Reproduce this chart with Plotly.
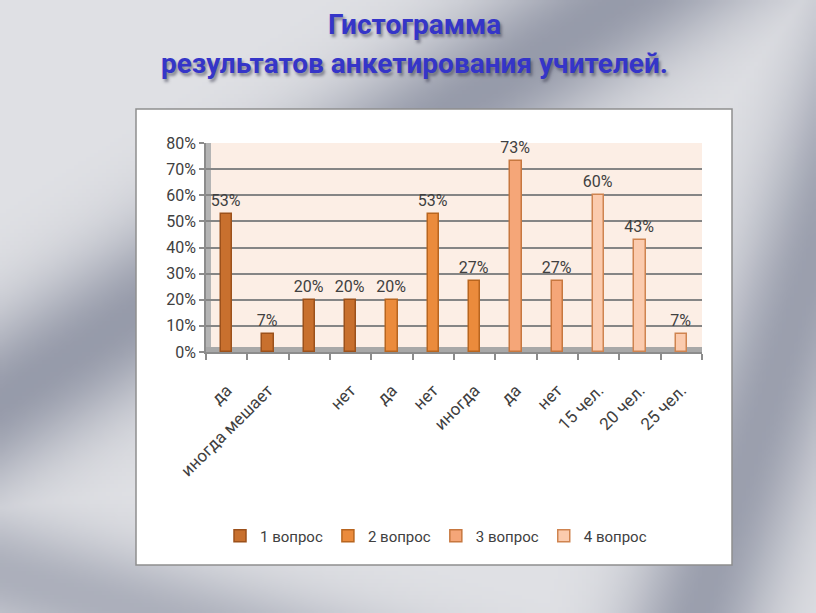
import base64, struct, zlib
import numpy as np
import plotly.graph_objects as go

# ---------------- data ----------------
categories = ["да", "иногда мешает", "", "нет", "да", "нет", "иногда", "да", "нет", "15 чел.", "20 чел.", "25 чел."]
series_names = ["1 вопрос", "2 вопрос", "3 вопрос", "4 вопрос"]
s1_idx = [0, 1, 2, 3]
s1_vals = [53, 7, 20, 20]
s2_idx = [4, 5, 6]
s2_vals = [20, 53, 27]
s3_idx = [7, 8]
s3_vals = [73, 27]
s4_idx = [9, 10, 11]
s4_vals = [60, 43, 7]
y_ticks = [0, 10, 20, 30, 40, 50, 60, 70, 80]

fills = ["#C8702E", "#EB8B3C", "#F5A678", "#FBCBAE"]
edges = ["#9C511B", "#B8651F", "#C7773F", "#CF8450"]

# ---------------- background gradient image ----------------
W, H = 204, 154
xs = np.linspace(0, 816, W)[None, :]
ys = np.linspace(0, 613, H)[:, None]
base = np.array([224, 225, 229], float)
dark = np.array([138, 143, 160], float)

def streak(p0, p1, width, amp):
    (x0, y0), (x1, y1) = p0, p1
    dx, dy = x1 - x0, y1 - y0
    n = np.hypot(dx, dy)
    d = np.abs((xs - x0) * dy - (ys - y0) * dx) / n
    return amp * np.exp(-(d / width) ** 2)

a = np.zeros((H, W))
a = np.maximum(a, streak((620, 0), (0, 400), 75, 0.85))
a = np.maximum(a, streak((900, 0), (700, 613), 70, 0.8))
a = np.maximum(a, streak((0, 575), (400, 690), 60, 0.6))
img = base[None, None, :] * (1 - a[..., None]) + dark[None, None, :] * a[..., None]
img = np.clip(img, 0, 255).astype(np.uint8)

def png_bytes(arr):
    h, w, _ = arr.shape
    raw = b"".join(b"\x00" + arr[i].tobytes() for i in range(h))
    def chunk(t, d):
        return struct.pack(">I", len(d)) + t + d + struct.pack(">I", zlib.crc32(t + d) & 0xffffffff)
    return (b"\x89PNG\r\n\x1a\n" + chunk(b"IHDR", struct.pack(">IIBBBBB", w, h, 8, 2, 0, 0, 0))
            + chunk(b"IDAT", zlib.compress(raw)) + chunk(b"IEND", b""))

bg_src = "data:image/png;base64," + base64.b64encode(png_bytes(img)).decode()

# ---------------- layout geometry (pixels) ----------------
FW, FH = 816, 613
L, R, T, B = 206, 702, 143, 352
PW, PH = R - L, B - T
def px(x): return (x - L) / PW
def py(y): return (B - y) / PH

fig = go.Figure()
font_name = "Roboto, 'Noto Sans', sans-serif"
for name, idx, vals, fc, ec in zip(series_names, [s1_idx, s2_idx, s3_idx, s4_idx],
                                    [s1_vals, s2_vals, s3_vals, s4_vals], fills, edges):
    fig.add_trace(go.Bar(
        x=idx, y=vals, name=name, width=0.28,
        marker=dict(color=fc, line=dict(color=ec, width=1.5)),
        text=[f"{v}%" for v in vals], textposition="outside", cliponaxis=False,
        constraintext="none",
        textfont=dict(size=16, color="#404040", family=font_name),
    ))

shapes = [
    dict(type="rect", xref="paper", yref="paper", x0=px(136), x1=px(732), y0=py(565), y1=py(109),
         fillcolor="white", line=dict(color="#8E8E8E", width=1.5), layer="below"),
    dict(type="rect", xref="paper", yref="paper", x0=0, x1=1, y0=0, y1=1,
         fillcolor="#FCEEE5", line=dict(width=0), layer="below"),
    dict(type="rect", xref="paper", yref="paper", x0=0, x1=px(L + 5), y0=0, y1=1,
         fillcolor="#B4B4B4", line=dict(width=0), layer="below"),
    dict(type="rect", xref="paper", yref="paper", x0=0, x1=1, y0=0, y1=py(B - 5),
         fillcolor="#A8A8A8", line=dict(width=0), layer="below"),
]

title_font = dict(family=font_name, size=28, color="#3535C8",
                  shadow="2px 3px 3px rgba(60,60,80,0.55)")
annotations = []
for text, ycen in [("<b>Гистограмма</b>", 25), ("<b>результатов анкетирования учителей.</b>", 63)]:
    annotations.append(dict(text=text, xref="paper", yref="paper", x=px(414), y=py(ycen),
                            showarrow=False, xanchor="center", yanchor="middle", font=title_font))

fig.update_layout(
    width=FW, height=FH, autosize=False,
    margin=dict(l=L, r=FW - R, t=T, b=FH - B, pad=0),
    paper_bgcolor="#C9CBD2", plot_bgcolor="rgba(0,0,0,0)",
    barmode="overlay", bargap=0,
    font=dict(family=font_name, color="#404040"),
    showlegend=True,
    legend=dict(orientation="h", x=px(436), y=py(536), xanchor="center", yanchor="middle",
                font=dict(size=15, color="#404040", family=font_name), bgcolor="rgba(0,0,0,0)",
                traceorder="normal", itemwidth=30),
    images=[dict(source=bg_src, xref="paper", yref="paper", x=px(0), y=py(0),
                 sizex=FW / PW, sizey=FH / PH, xanchor="left", yanchor="top",
                 sizing="stretch", layer="below")],
    shapes=shapes, annotations=annotations,
)
fig.update_xaxes(
    range=[-0.5, len(categories) - 0.5], tickmode="array",
    tickvals=list(range(len(categories))), ticktext=categories,
    tickangle=-45, ticks="", ticklabelstandoff=20,
    tickfont=dict(size=17, color="#404040", family=font_name),
    showgrid=False, zeroline=False, showline=True, linecolor="#8C8C8C", linewidth=1.5,
    minor=dict(tickmode="array", tickvals=[i - 0.5 for i in range(len(categories) + 1)],
               ticks="outside", ticklen=6, tickcolor="#8C8C8C", tickwidth=1.5, showgrid=False),
)
fig.update_yaxes(
    range=[0, 80], tickmode="array", tickvals=y_ticks, ticktext=[f"{v}%" for v in y_ticks],
    ticks="outside", ticklen=5, tickcolor="#8C8C8C", tickwidth=1.5,
    tickfont=dict(size=16, color="#404040", family=font_name),
    showgrid=True, gridcolor="#858585", gridwidth=1.8, zeroline=False,
    showline=True, linecolor="#8C8C8C", linewidth=1.5,
)

fig.write_html("out.html", config={"displayModeBar": False},
               post_script="document.body.style.margin='0';document.body.style.overflow='hidden';")
